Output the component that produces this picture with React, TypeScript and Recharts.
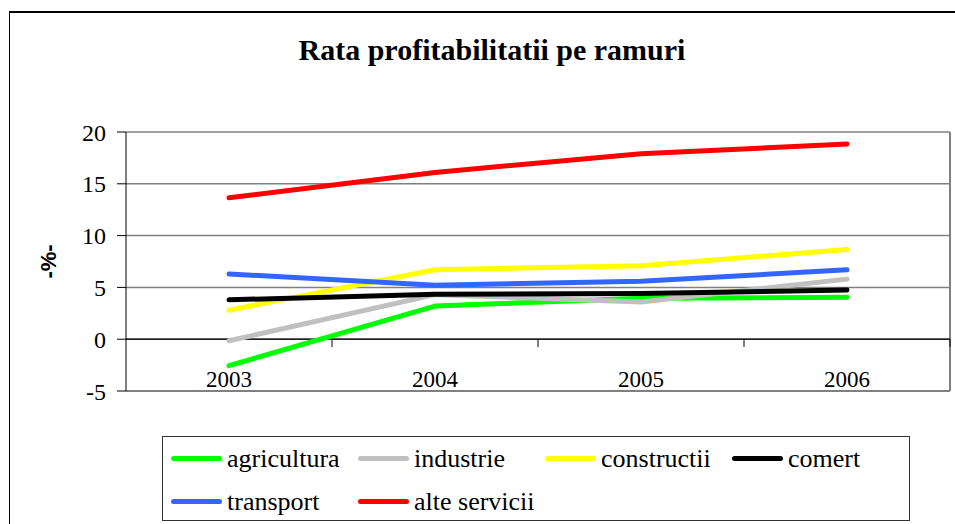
import { CartesianGrid, Legend, Line, LineChart, ReferenceLine, XAxis, YAxis } from "recharts"

const years = [2003, 2004, 2005, 2006]
const agricultura = [-2.55, 3.2, 3.95, 4.05]
const industrie = [-0.15, 4.3, 3.6, 5.8]
const constructii = [2.8, 6.7, 7.1, 8.65]
const comert = [3.8, 4.35, 4.4, 4.75]
const transport = [6.3, 5.2, 5.6, 6.7]
const alteServicii = [13.65, 16.1, 17.9, 18.85]
const yTicks = [-5, 0, 5, 10, 15, 20]

const FONT = "'Liberation Serif', 'Times New Roman', serif"

const series = [
    { key: "agricultura", name: "agricultura", values: agricultura, color: "#00ff00" },
    { key: "industrie", name: "industrie", values: industrie, color: "#c0c0c0" },
    { key: "constructii", name: "constructii", values: constructii, color: "#ffff00" },
    { key: "comert", name: "comert", values: comert, color: "#000000" },
    { key: "transport", name: "transport", values: transport, color: "#3366ff" },
    { key: "alteServicii", name: "alte servicii", values: alteServicii, color: "#ff0000" },
]

const data = years.map((year, i) => {
    const row: Record<string, number> = { year }
    series.forEach((s) => {
        row[s.key] = s.values[i]
    })
    return row
})

// Excel-style category label, drawn just above the bottom border of the plot
function YearTick({ x, y, payload }: any) {
    return (
        <text x={x} y={y} dy={-12} textAnchor="middle" fontFamily={FONT} fontSize={23} fill="#000">
            {payload.value}
        </text>
    )
}

function LegendBox() {
    return (
        <div
            style={{
                width: 748,
                height: 85,
                border: "1px solid #333",
                boxSizing: "border-box",
                display: "grid",
                gridTemplateColumns: "187px 187px 187px 170px",
                gridAutoRows: "43px",
                paddingLeft: 8,
                fontFamily: FONT,
                fontSize: 26,
                lineHeight: "26px",
            }}
        >
            {series.map((s) => (
                <div key={s.key} style={{ display: "flex", alignItems: "center" }}>
                    <span
                        style={{
                            display: "inline-block",
                            width: 51,
                            height: 5,
                            borderRadius: 3,
                            background: s.color,
                            marginRight: 5,
                        }}
                    />
                    <span>{s.name}</span>
                </div>
            ))}
        </div>
    )
}

export default function App() {
    return (
        <div style={{ position: "absolute", left: 0, top: 0, width: 955, height: 524, overflow: "hidden", background: "#fff" }}>
            <div
                style={{
                    position: "absolute",
                    left: 9,
                    top: 11,
                    width: 1000,
                    height: 600,
                    borderTop: "2px solid #000",
                    borderLeft: "1px solid #000",
                }}
            />
            <div
                style={{
                    position: "absolute",
                    left: 0,
                    width: 984,
                    top: 33,
                    textAlign: "center",
                    fontFamily: FONT,
                    fontWeight: "bold",
                    fontSize: 30,
                }}
            >
                Rata profitabilitatii pe ramuri
            </div>
            <div style={{ position: "absolute", left: 0, top: 0 }}>
                <LineChart width={955} height={524} data={data} margin={{ top: 132, right: 5, bottom: 103, left: 30 }}>
                    <CartesianGrid vertical={false} stroke="#808080" strokeWidth={1.5} />
                    <XAxis
                        dataKey="year"
                        type="number"
                        domain={[2002.5, 2006.5]}
                        ticks={years}
                        height={30}
                        axisLine={{ stroke: "#808080", strokeWidth: 2 }}
                        tickLine={false}
                        tick={<YearTick />}
                    />
                    <YAxis
                        domain={[-5, 20]}
                        ticks={yTicks}
                        width={96}
                        interval={0}
                        axisLine={{ stroke: "#000" }}
                        tickLine={{ stroke: "#000" }}
                        tickSize={9}
                        tickMargin={11}
                        tick={{ fontFamily: FONT, fontSize: 24, fill: "#000" }}
                        label={{
                            content: ({ viewBox }: any) => (
                                <text
                                    x={viewBox.x + 18}
                                    y={viewBox.y + viewBox.height / 2}
                                    transform={`rotate(-90, ${viewBox.x + 18}, ${viewBox.y + viewBox.height / 2})`}
                                    textAnchor="middle"
                                    dominantBaseline="central"
                                    fontFamily="Arial, 'Liberation Sans', sans-serif"
                                    fontWeight="bold"
                                    fontSize={22}
                                    fill="#000"
                                >
                                    -%-
                                </text>
                            ),
                        }}
                    />
                    <ReferenceLine x={2006.5} stroke="#808080" strokeWidth={2} />
                    <ReferenceLine y={0} stroke="#000" strokeWidth={1.2} />
                    {years.map((year) => (
                        <ReferenceLine
                            key={year}
                            segment={[
                                { x: year + 0.5, y: 0 },
                                { x: year + 0.5, y: -0.75 },
                            ]}
                            stroke="#000"
                        />
                    ))}
                    {series.map((s) => (
                        <Line
                            key={s.key}
                            dataKey={s.key}
                            name={s.name}
                            stroke={s.color}
                            strokeWidth={5}
                            strokeLinecap="round"
                            strokeLinejoin="round"
                            dot={false}
                            activeDot={false}
                            isAnimationActive={false}
                        />
                    ))}
                    <Legend
                        layout="vertical"
                        align="center"
                        verticalAlign="middle"
                        content={() => <LegendBox />}
                        wrapperStyle={{ left: 162, top: 436, width: 748, height: 85 }}
                    />
                </LineChart>
            </div>
        </div>
    )
}
